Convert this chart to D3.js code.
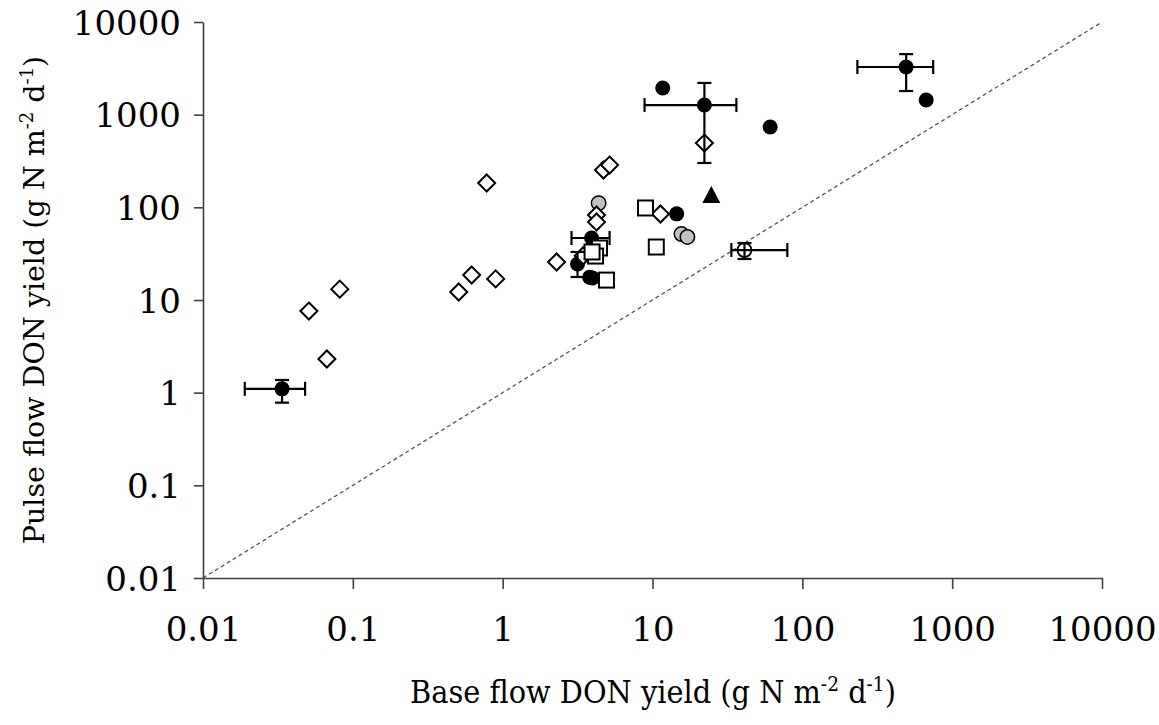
<!DOCTYPE html>
<html>
<head>
<meta charset="utf-8">
<script src="https://cdn.jsdelivr.net/npm/d3@7"></script>
<style>
  body { margin: 0; background: #fff; }
  svg text { font-family: "DejaVu Serif", serif; fill: #000; }
</style>
</head>
<body>
<div id="chart"></div>
<script>
// ticks shared by both log axes
const tickValues = [0.01, 0.1, 1, 10, 100, 1000, 10000];
const tickLabels = ["0.01", "0.1", "1", "10", "100", "1000", "10000"];

// filled black circles (some with error bars)
const filledCircles = [
  {x: 0.0337, y: 1.1, xlo: 0.019, xhi: 0.048, ylo: 0.78, yhi: 1.37},
  {x: 11.7, y: 1940},
  {x: 22.2, y: 1270, xlo: 8.85, xhi: 36.3, ylo: 301, yhi: 2200},
  {x: 61, y: 736},
  {x: 14.5, y: 85},
  {x: 493, y: 3270, xlo: 233, xhi: 747, ylo: 1800, yhi: 4500},
  {x: 671, y: 1440},
  {x: 3.92, y: 46.7, xlo: 2.88, xhi: 5.17},
  {x: 3.16, y: 24.5, ylo: 17.7, yhi: 33},
  {x: 3.98, y: 17.3},
  {x: 3.8, y: 17.6}
];

// open diamonds
const openDiamonds = [
  {x: 0.0818, y: 13.1},
  {x: 0.0509, y: 7.6},
  {x: 0.0671, y: 2.31},
  {x: 0.782, y: 183},
  {x: 0.621, y: 18.6},
  {x: 0.898, y: 16.9},
  {x: 0.509, y: 12.2},
  {x: 2.29, y: 25.7},
  {x: 4.71, y: 253},
  {x: 5.17, y: 286},
  {x: 4.23, y: 82.6},
  {x: 4.23, y: 69.5},
  {x: 11.3, y: 84.8},
  {x: 22.2, y: 494},
  {x: 3.69, y: 33},
  {x: 3.45, y: 30}
];

// grey circles
const greyCircles = [
  {x: 4.37, y: 111},
  {x: 15.6, y: 51.5},
  {x: 17.1, y: 47.9},
  {x: 3.8, y: 31}
];

// open squares
const openSquares = [
  {x: 8.98, y: 98.4},
  {x: 10.6, y: 37.3},
  {x: 4.43, y: 36.4},
  {x: 4.17, y: 29.8},
  {x: 3.95, y: 33},
  {x: 4.93, y: 16.4}
];

// black triangle
const triangles = [
  {x: 24.7, y: 136}
];

// open circle with error bars
const openCircles = [
  {x: 41.1, y: 34.6, xlo: 33.6, xhi: 79.4, ylo: 27.7, yhi: 41.2}
];

const W = 1159, H = 725;
const svg = d3.select("#chart").append("svg")
  .attr("width", W).attr("height", H);

const x = d3.scaleLog().domain([0.01, 10000]).range([203, 1102]);
const y = d3.scaleLog().domain([0.01, 10000]).range([578, 22]);

// 1:1 line
svg.append("line")
  .attr("x1", x(0.01)).attr("y1", y(0.01))
  .attr("x2", x(10000)).attr("y2", y(10000))
  .attr("stroke", "#555").attr("stroke-width", 1.3)
  .attr("stroke-dasharray", "4,3");

// axes
const xAxis = svg.append("g")
  .attr("transform", `translate(0,${y(0.01)})`)
  .call(d3.axisBottom(x).tickValues(tickValues)
    .tickFormat((d, i) => tickLabels[i]).tickSizeInner(11).tickSizeOuter(0).tickPadding(28));
const yAxis = svg.append("g")
  .attr("transform", `translate(${x(0.01)},0)`)
  .call(d3.axisLeft(y).tickValues(tickValues)
    .tickFormat((d, i) => tickLabels[i]).tickSizeInner(9).tickSizeOuter(0).tickPadding(13));

[xAxis, yAxis].forEach(a => {
  a.select(".domain").attr("stroke", "#404040").attr("stroke-width", 1.6);
  a.selectAll(".tick line").attr("stroke", "#404040").attr("stroke-width", 1.6);
  a.selectAll(".tick text").style("font-size", "34px").style("font-family", "DejaVu Serif");
});
xAxis.selectAll(".tick text").attr("dy", "0.71em");
yAxis.selectAll(".tick text").attr("dy", "0.36em");

// axis titles (x title is horizontally condensed in the original)
const xt = svg.append("text")
  .attr("transform", "translate(653,703) scale(0.93,1)")
  .attr("text-anchor", "middle")
  .style("font-size", "31px");
xt.append("tspan").text("Base flow DON yield (g N m");
xt.append("tspan").attr("dy", -12).style("font-size", "20px").text("-2");
xt.append("tspan").attr("dy", 12).text(" d");
xt.append("tspan").attr("dy", -12).style("font-size", "20px").text("-1");
xt.append("tspan").attr("dy", 12).text(")");

const yt = svg.append("text")
  .attr("transform", "translate(44,300) rotate(-90)")
  .attr("text-anchor", "middle")
  .style("font-size", "28.5px");
yt.append("tspan").text("Pulse flow DON yield (g N m");
yt.append("tspan").attr("dy", -11).style("font-size", "18px").text("-2");
yt.append("tspan").attr("dy", 11).text(" d");
yt.append("tspan").attr("dy", -11).style("font-size", "18px").text("-1");
yt.append("tspan").attr("dy", 11).text(")");

const marks = svg.append("g");

// filled circles
marks.selectAll(".fc").data(filledCircles).enter().append("circle")
  .attr("cx", d => x(d.x)).attr("cy", d => y(d.y)).attr("r", 7.5)
  .attr("fill", "#000");

// grey circles
marks.selectAll(".gc").data(greyCircles).enter().append("circle")
  .attr("cx", d => x(d.x)).attr("cy", d => y(d.y)).attr("r", 7.2)
  .attr("fill", "#c0c0c0").attr("stroke", "#000").attr("stroke-width", 1.5);

// diamonds
marks.selectAll(".dm").data(openDiamonds).enter().append("path")
  .attr("transform", d => `translate(${x(d.x)},${y(d.y)})`)
  .attr("d", "M0,-8.5L8.5,0L0,8.5L-8.5,0Z")
  .attr("fill", "#fff").attr("stroke", "#000").attr("stroke-width", 2);

// squares
marks.selectAll(".sq").data(openSquares).enter().append("rect")
  .attr("x", d => x(d.x) - 7.5).attr("y", d => y(d.y) - 7.5)
  .attr("width", 15).attr("height", 15)
  .attr("fill", "#fff").attr("stroke", "#000").attr("stroke-width", 2);

// triangle
marks.selectAll(".tr").data(triangles).enter().append("path")
  .attr("transform", d => `translate(${x(d.x)},${y(d.y)})`)
  .attr("d", "M0,-9L9,8L-9,8Z")
  .attr("fill", "#000");

// open circle
marks.selectAll(".oc").data(openCircles).enter().append("circle")
  .attr("cx", d => x(d.x)).attr("cy", d => y(d.y)).attr("r", 7)
  .attr("fill", "#fff").attr("stroke", "#000").attr("stroke-width", 1.8);

// error bars on top
const withErr = filledCircles.concat(openCircles);
const cap = 7;
const eb = svg.append("g").attr("stroke", "#000").attr("stroke-width", 2.2);
withErr.forEach(d => {
  const cx = x(d.x), cy = y(d.y);
  if (d.xlo !== undefined) {
    eb.append("line").attr("x1", x(d.xlo)).attr("x2", x(d.xhi)).attr("y1", cy).attr("y2", cy);
    eb.append("line").attr("x1", x(d.xlo)).attr("x2", x(d.xlo)).attr("y1", cy - cap).attr("y2", cy + cap);
    eb.append("line").attr("x1", x(d.xhi)).attr("x2", x(d.xhi)).attr("y1", cy - cap).attr("y2", cy + cap);
  }
  if (d.ylo !== undefined) {
    eb.append("line").attr("x1", cx).attr("x2", cx).attr("y1", y(d.ylo)).attr("y2", y(d.yhi));
    eb.append("line").attr("x1", cx - cap).attr("x2", cx + cap).attr("y1", y(d.ylo)).attr("y2", y(d.ylo));
    eb.append("line").attr("x1", cx - cap).attr("x2", cx + cap).attr("y1", y(d.yhi)).attr("y2", y(d.yhi));
  }
});
</script>
</body>
</html>
